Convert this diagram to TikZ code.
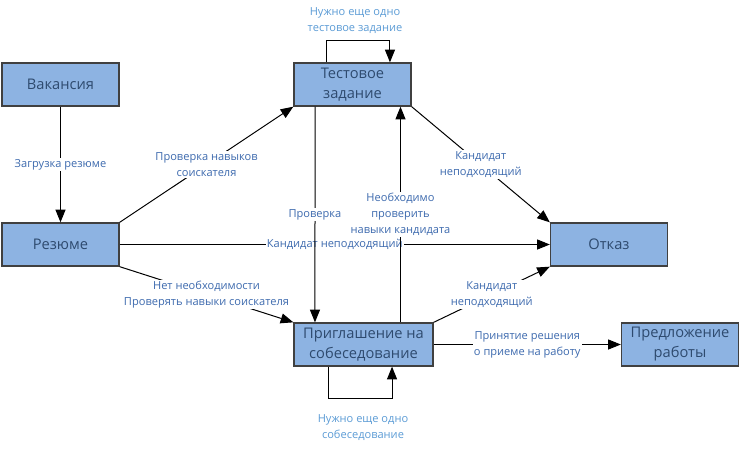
\documentclass[tikz,border=0pt]{standalone}
\usepackage{fontspec}
\setmainfont{Open Sans}
\usetikzlibrary{arrows.meta}
\definecolor{boxfill}{HTML}{8DB3E2}
\definecolor{boxtext}{HTML}{2E4A6E}
\definecolor{lbltext}{HTML}{3D6AAE}
\definecolor{looptext}{HTML}{5B9BD5}

\begin{document}
\begin{tikzpicture}[x=0.75pt,y=-0.75pt,
  box/.style = {draw=black!75, line width=1pt, fill=boxfill, text=boxtext, align=center,
    minimum width=87.75pt, minimum height=32.25pt, inner sep=1pt,
    font=\fontsize{11}{15}\selectfont},
  lbl/.style = {fill=white, text=lbltext, align=center, inner sep=1pt,
    font=\fontsize{8.3}{12}\selectfont},
  loop/.style = {text=looptext, align=center, inner sep=0pt,
    font=\fontsize{8.3}{12}\selectfont},
  >={Triangle[length=9.5pt,width=7.5pt]}, line width=0.75pt]
  \useasboundingbox (0,0) rectangle (743,450);
        \node[box] (vac) at (60.5,84.5) {Вакансия};
        \node[box] (rez) at (60.5,244.5) {Резюме};
        \node[box] (test) at (352.5,84.5) {Тестовое\\задание};
        \node[box] (otk) at (609,244.5) {Отказ};
        \node[box, minimum width=104.25pt] (inv) at (363.5,344.5) {Приглашение на\\собеседование};
        \node[box] (job) at (680,344.5) {Предложение\\работы};
        % переходы
        \draw[->] (vac) -- node[lbl, midway] {Загрузка резюме} (rez);
        \draw[->] (rez.north east) -- node[lbl, midway] {Проверка навыков\\соискателя} (test.south west);
        \draw[->] (rez) -- node[lbl, midway] {Кандидат неподходящий} (otk);
        \draw[->] (rez.south east) -- node[lbl, midway] {Нет необходимости\\Проверять навыки соискателя} (inv.north west);
        \draw[->] ([xshift=-28.1pt]test.south) -- node[lbl, midway] {Проверка} ([xshift=-36.4pt]inv.north);
        \draw[->] ([xshift=27.75pt]inv.north) -- node[lbl, midway] {Необходимо\\проверить\\навыки кандидата} ([xshift=36pt]test.south);
        \draw[->] (test.south east) -- node[lbl, midway] {Кандидат\\неподходящий} (otk.north west);
        \draw[->] (inv.north east) -- node[lbl, midway] {Кандидат\\неподходящий} (otk.south west);
        \draw[->] (inv) -- node[lbl, midway] {Принятие решения\\о приеме на работу} (job);
        % петли
        \draw[->] ([xshift=-19.5pt]test.north) -- ++(0,-22.3) -| ([xshift=28.1pt]test.north);
        \node[loop] (lt) at (355,21) {Нужно еще одно\\тестовое задание};
        \draw[->] ([xshift=-26.6pt]inv.south) -- ++(0,31.7) -| ([xshift=21.4pt]inv.south);
        \node[loop] (li) at (363,428) {Нужно еще одно\\собеседование};
\end{tikzpicture}
\end{document}
